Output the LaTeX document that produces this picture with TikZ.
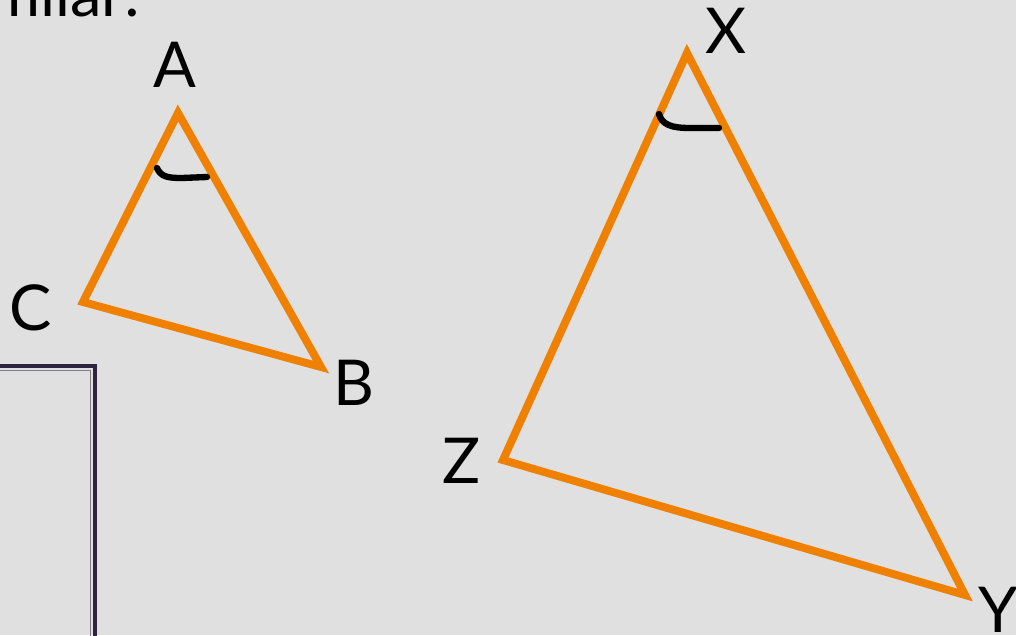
\documentclass[tikz,border=0pt]{standalone}
\usepackage{fontspec}
\setmainfont{Lato}
\definecolor{slidebg}{RGB}{224,224,224}
\definecolor{triorange}{RGB}{240,128,0}
\definecolor{framepurple}{RGB}{46,36,64}

\begin{document}
\begin{tikzpicture}[x=0.02cm,y=-0.02cm,
  side/.style={triorange,line width=4.5pt},
  tick/.style={black,line width=3.6pt,line cap=round},
  vlabel/.style={font=\fontsize{36}{40}\selectfont,inner sep=0pt}]
\useasboundingbox (0,0) rectangle (1016,635);
\clip (0,0) rectangle (1016,635);
\fill[slidebg] (0,0) rectangle (1016,635);
% heading, cut off at the top left
\node[vlabel,anchor=base east] (head) at (141,17) {similar:};
% frame of the box below
\draw[framepurple,line width=2.6pt] (-20,366) -- (95,366) -- (95,660);
\draw[framepurple!60,line width=0.8pt] (-20,370.5) -- (90.5,370.5) -- (90.5,660);
% small triangle
\coordinate (A) at (178,113);
\coordinate (B) at (321,367);
\coordinate (C) at (83,302);
\draw[side] (A) -- (B) -- (C) -- cycle;
\node[vlabel] (lA) at (175,65) {A};
\node[vlabel] (lB) at (354,383) {B};
\node[vlabel] (lC) at (31,308) {C};
\draw[tick] (157,168) .. controls (161,177) and (168,178) .. (182,178) -- (207,177);
% large triangle
\coordinate (X) at (687,53);
\coordinate (Y) at (965,595);
\coordinate (Z) at (503,460);
\draw[side] (X) -- (Y) -- (Z) -- cycle;
\node[vlabel] (lX) at (726,31) {X};
\node[vlabel] (lY) at (998,610) {Y};
\node[vlabel] (lZ) at (462,461) {Z};
\draw[tick] (659,114) .. controls (662,125) and (672,128) .. (690,128) -- (719,128);
\end{tikzpicture}
\end{document}
